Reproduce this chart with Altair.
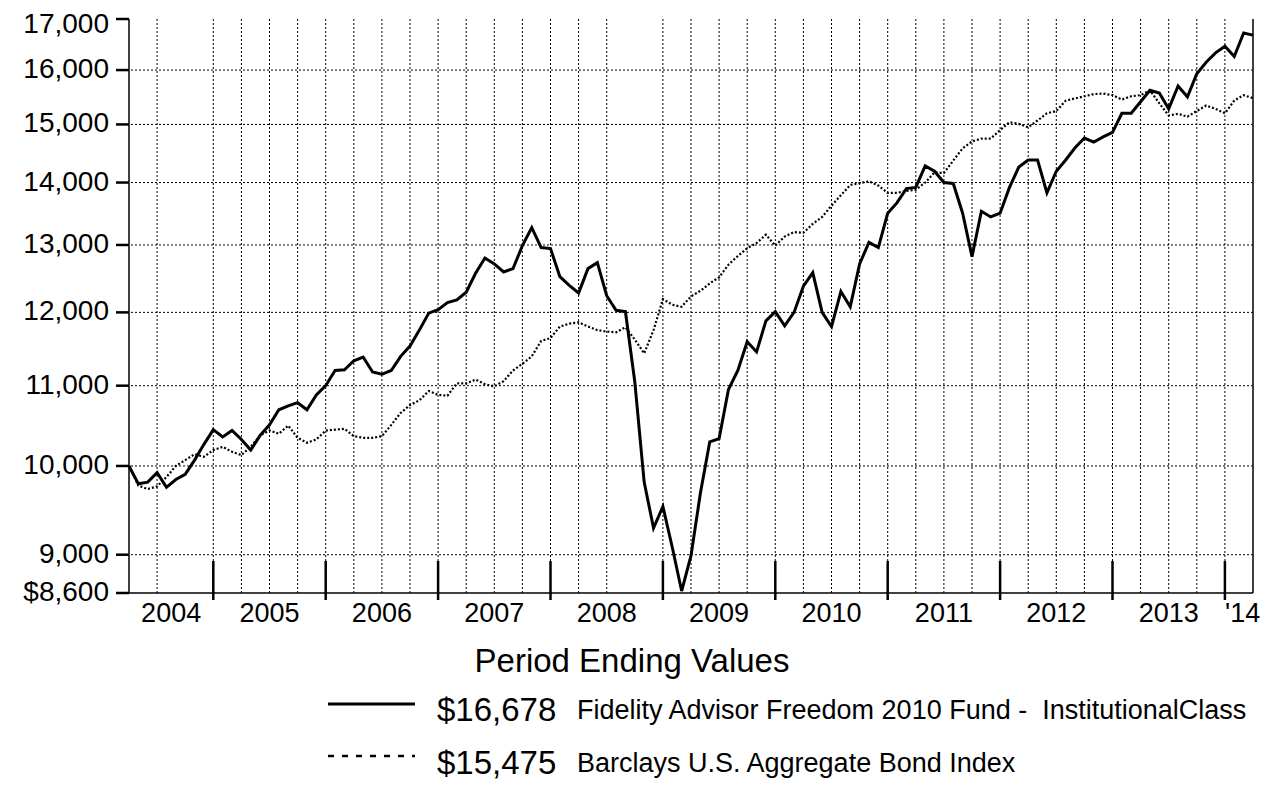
import altair as alt
import pandas as pd

# ---- data (monthly, Mar 2004 .. Mar 2014) ----
fund = [
    10000, 9790, 9810, 9920, 9750, 9840, 9900, 10070, 10260, 10440,
    10350, 10430, 10320, 10190, 10370, 10500, 10690, 10740, 10780, 10690, 10880, 11000,
    11200, 11210, 11330, 11380, 11180, 11150, 11200, 11390, 11530, 11750, 11990, 12040,
    12140, 12180, 12290, 12570, 12800, 12710, 12590, 12640, 12990, 13270, 12960, 12945,
    12520, 12390, 12280, 12640, 12730, 12240, 12030, 12010, 11050, 9810, 9290, 9530,
    9080, 8620, 8990, 9680, 10290, 10330, 10950, 11200, 11590, 11450, 11880, 12010,
    11810, 12000, 12380, 12580, 12000, 11800, 12300, 12080, 12710, 13040, 12960, 13500,
    13670, 13900, 13920, 14280, 14190, 14000, 13985, 13500, 12820, 13530, 13440, 13500,
    13920, 14260, 14380, 14380, 13830, 14190, 14380, 14590, 14760, 14690, 14780, 14860,
    15200, 15200, 15410, 15620, 15570, 15280, 15700, 15500, 15930, 16150, 16330, 16460,
    16260, 16720, 16678,
]
bond = [
    10000, 9770, 9730, 9760, 9870, 10000, 10070, 10140, 10110, 10190,
    10230, 10170, 10130, 10230, 10370, 10430, 10390, 10490, 10340, 10280, 10320, 10430,
    10440, 10450, 10360, 10340, 10340, 10360, 10500, 10650, 10750, 10810, 10930, 10880,
    10870, 11030, 11030, 11080, 11020, 10990, 11060, 11200, 11290, 11390, 11600, 11640,
    11800, 11840, 11860, 11800, 11750, 11730, 11720, 11790, 11620, 11430, 11750, 12190,
    12110, 12080, 12230, 12310, 12420, 12510, 12700, 12830, 12950, 13030, 13160, 12990,
    13130, 13200, 13190, 13330, 13440, 13620, 13790, 13960, 13990, 14020, 13950, 13830,
    13830, 13860, 13880, 14000, 14170, 14160, 14370, 14580, 14700, 14750, 14750, 14900,
    15040, 15010, 14950, 15070, 15200, 15240, 15430, 15470, 15510, 15550, 15560, 15530,
    15450, 15510, 15530, 15620, 15380, 15160, 15190, 15140, 15240, 15340, 15280, 15200,
    15430, 15530, 15475,
]
months = [str(p) for p in pd.period_range("2004-03", periods=len(fund), freq="M")]

year_labels = ["2004", "2005", "2006", "2007", "2008", "2009", "2010",
               "2011", "2012", "2013", "'14"]
year_label_pos = [4.5, 15, 27, 39, 51, 63, 75, 87, 99, 111, 118.9]
year_ticks = [9, 21, 33, 45, 57, 69, 81, 93, 105, 117]
y_ticks = [8600, 9000, 10000, 11000, 12000, 13000, 14000, 15000, 16000, 17000]
y_tick_labels = ["$8,600", "9,000", "10,000", "11,000", "12,000", "13,000",
                 "14,000", "15,000", "16,000", "17,000"]
y_grid = [9000, 10000, 11000, 12000, 13000, 14000, 15000, 16000]
x_grid = [q for q in range(3, 120, 3) if q not in (6, 54)]

legend_title = "Period Ending Values"
legend_values = ["$16,678", "$15,475"]
legend_names = ["Fidelity Advisor Freedom 2010 Fund -\u00a0 InstitutionalClass",
                "Barclays U.S. Aggregate Bond Index"]

W, H = 1124, 574
FONT = "Liberation Sans"

xscale = alt.Scale(domain=[0, 120], nice=False, zero=False)
yscale = alt.Scale(type="log", domain=[8600, 17000], nice=False, zero=False)

df_f = pd.DataFrame({"t": range(len(fund)), "month": months, "value": fund})
df_b = pd.DataFrame({"t": range(len(bond)), "month": months, "value": bond})

hgrid = alt.Chart(pd.DataFrame({"v": y_grid})).mark_rule(
    color="black", strokeWidth=1, strokeDash=[2, 2]
).encode(y=alt.Y("v:Q", scale=yscale, axis=None))

vgrid = alt.Chart(pd.DataFrame({"t": x_grid})).mark_rule(
    color="black", strokeWidth=1, strokeDash=[2, 2]
).encode(x=alt.X("t:Q", scale=xscale, axis=None))

bond_line = alt.Chart(df_b).mark_line(
    color="black", strokeWidth=2.2, strokeDash=[2, 2]
).encode(
    x=alt.X("t:Q", scale=xscale, axis=None),
    y=alt.Y("value:Q", scale=yscale, axis=None),
)

fund_line = alt.Chart(df_f).mark_line(color="black", strokeWidth=3).encode(
    x=alt.X("t:Q", scale=xscale, axis=None),
    y=alt.Y("value:Q", scale=yscale, axis=None),
)

# y axis drawn explicitly: tick marks + labels
df_yt = pd.DataFrame({"v": y_ticks, "lab": y_tick_labels})
ytick_marks = alt.Chart(df_yt).mark_rule(color="black", strokeWidth=2.5).encode(
    y=alt.Y("v:Q", scale=yscale, axis=None),
    x=alt.value(-13), x2=alt.value(0),
)
ytick_labels = alt.Chart(df_yt).transform_filter("datum.v < 17000").mark_text(
    font=FONT, fontSize=28, color="black", align="right", baseline="middle"
).encode(
    y=alt.Y("v:Q", scale=yscale, axis=None),
    x=alt.value(-20),
    text="lab:N",
)
ytop_label = alt.Chart(df_yt).transform_filter("datum.v >= 17000").mark_text(
    font=FONT, fontSize=28, color="black", align="right", baseline="middle", dy=6
).encode(
    y=alt.Y("v:Q", scale=yscale, axis=None),
    x=alt.value(-20),
    text="lab:N",
)

xtick_marks = alt.Chart(pd.DataFrame({"t": year_ticks})).mark_rule(
    color="black", strokeWidth=2.5
).encode(
    x=alt.X("t:Q", scale=xscale, axis=None),
    y=alt.value(542), y2=alt.value(581),
)

xlabels = alt.Chart(pd.DataFrame({"t": year_label_pos, "lab": year_labels})).mark_text(
    font=FONT, fontSize=27, color="black", align="center", baseline="alphabetic"
).encode(
    x=alt.X("t:Q", scale=xscale, axis=None),
    y=alt.value(603),
    text="lab:N",
)

one = pd.DataFrame({"a": [0]})
left_border = alt.Chart(one).mark_rule(color="black", strokeWidth=1.5).encode(
    x=alt.value(0), y=alt.value(0), y2=alt.value(H)
)
bottom_border = alt.Chart(one).mark_rule(color="black", strokeWidth=1.5).encode(
    x=alt.value(0), x2=alt.value(W), y=alt.value(H)
)
right_border = alt.Chart(one).mark_rule(color="black", strokeWidth=1.5).encode(
    x=alt.value(W), y=alt.value(0), y2=alt.value(H)
)


def txt(s, x, y, size, align="left"):
    return alt.Chart(pd.DataFrame({"s": [s]})).mark_text(
        font=FONT, fontSize=size, color="black", align=align, baseline="alphabetic"
    ).encode(x=alt.value(x), y=alt.value(y), text="s:N")


leg_title = txt(legend_title, 503, 653, 33, "center")
leg_solid = alt.Chart(one).mark_rule(color="black", strokeWidth=3).encode(
    x=alt.value(199), x2=alt.value(286), y=alt.value(685)
)
leg_dot = alt.Chart(one).mark_rule(color="black", strokeWidth=2.5, strokeDash=[6, 8]).encode(
    x=alt.value(199), x2=alt.value(286), y=alt.value(737)
)
leg_v1 = txt(legend_values[0], 308, 702, 33)
leg_n1 = txt(legend_names[0], 448, 700, 27)
leg_v2 = txt(legend_values[1], 308, 755, 33)
leg_n2 = txt(legend_names[1], 448, 753, 27)

chart = alt.layer(
    hgrid, vgrid, bond_line, fund_line, ytick_marks, ytick_labels, ytop_label,
    xtick_marks, xlabels, left_border, bottom_border, right_border,
    leg_title, leg_solid, leg_dot, leg_v1, leg_n1, leg_v2, leg_n2,
).properties(
    width=W, height=H,
    padding={"left": 121, "top": 11, "right": 15, "bottom": 205},
    autosize=alt.AutoSizeParams(type="none"),
    background="white",
).configure_view(stroke=None)

chart.save("out.html", embed_options={"renderer": "svg", "actions": False})
